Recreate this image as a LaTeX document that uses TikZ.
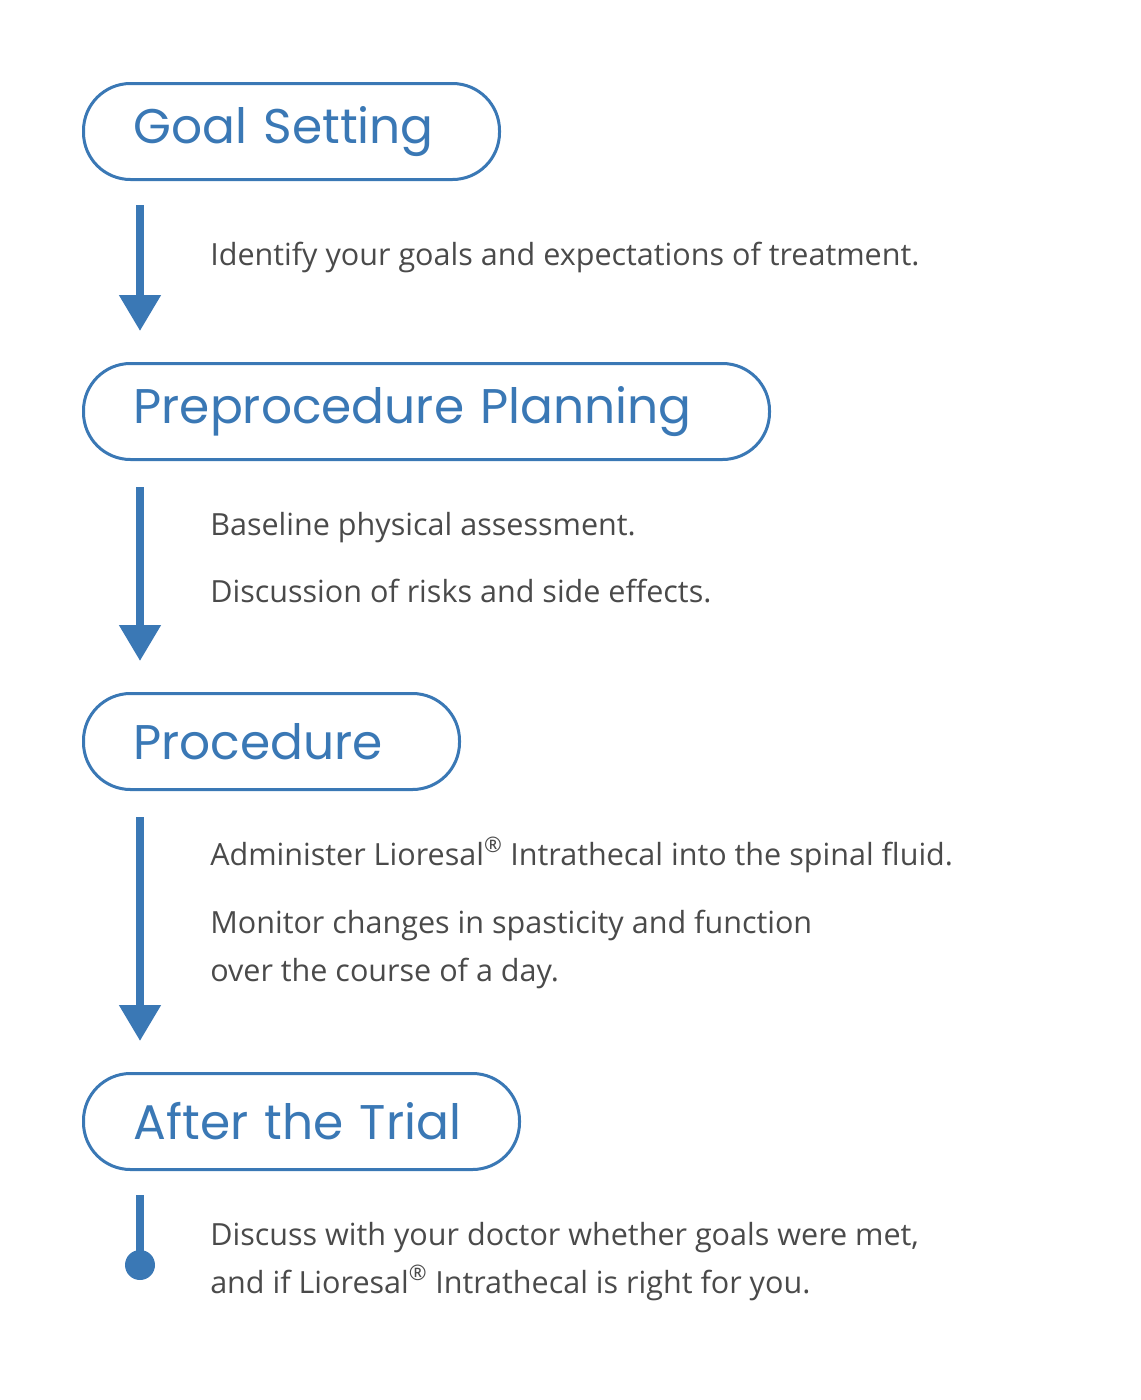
\documentclass[tikz,border=0pt]{standalone}
\usepackage{fontspec}
\setmainfont{Open Sans}
\newfontfamily\titlefont{Poppins}
\usetikzlibrary{arrows.meta}
\definecolor{stepblue}{HTML}{3A78B5}
\definecolor{bodygray}{HTML}{4A4A4A}
\newcommand{\px}{0.75pt}

\begin{document}
\begin{tikzpicture}[x=\px, y=-\px,
    stage/.style={draw=stepblue, line width=3*\px, rounded corners=47*\px, rectangle, anchor=north west,
      minimum height=96*\px, inner ysep=0pt, inner xsep=50*\px, align=left,
      text=stepblue, font=\titlefont\fontsize{36.5}{40}\selectfont},
    info/.style={anchor=base west, inner sep=0pt, align=left, text=bodygray,
      font=\fontsize{22.9}{36}\selectfont},
    flow/.style={draw=stepblue, line width=8*\px, -{Triangle[width=40*\px, length=36*\px]}}]
    \useasboundingbox (0,0) rectangle (1140,1400);

    % Stages
    \node[stage, text width=316*\px] (goal) at (82,82) {Goal Setting};
    \node[stage, text width=586*\px] (plan) at (82,362) {Preprocedure Planning};
    \node[stage, text width=276*\px] (proc) at (82,692) {Procedure};
    \node[stage, text width=336*\px] (after) at (82,1072) {After the Trial};

    % Texts (two-line ones sit on their last baseline)
    \node[info] (t-1) at (210,265) {Identify your goals and expectations of treatment.};
    \node[info] (t-2) at (210,535) {Baseline physical assessment.};
    \node[info] (t-3) at (210,602) {Discussion of risks and side effects.};
    \node[info] (t-4) at (210,865) {Administer Lioresal\textsuperscript{®} Intrathecal into the spinal fluid.};
    \node[info] (t-5) at (210,981) {Monitor changes in spasticity and function\\over the course of a day.};
    \node[info] (t-6) at (210,1293) {Discuss with your doctor whether goals were met,\\and if Lioresal\textsuperscript{®} Intrathecal is right for you.};

    % Arrows
    \coordinate (a-1) at (140,205);
    \coordinate (b-1) at (140,331);
    \coordinate (a-2) at (140,487);
    \coordinate (b-2) at (140,661);
    \coordinate (a-3) at (140,817);
    \coordinate (b-3) at (140,1041);
    \coordinate (a-4) at (140,1195);
    \coordinate (b-4) at (140,1265);
    \draw[flow] (a-1) -- (b-1);
    \draw[flow] (a-2) -- (b-2);
    \draw[flow] (a-3) -- (b-3);
    \draw[stepblue, line width=8*\px] (a-4) -- (b-4);
    \fill[stepblue] (b-4) circle (15*\px);
\end{tikzpicture}
\end{document}
